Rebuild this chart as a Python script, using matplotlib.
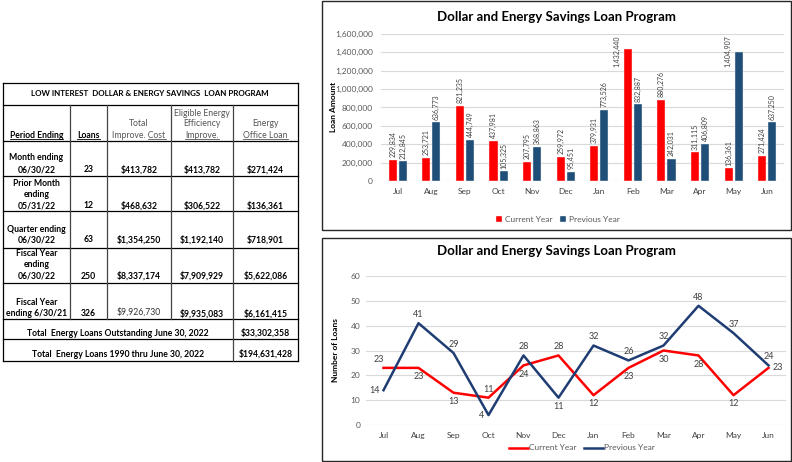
import numpy as np
import matplotlib
matplotlib.use('Agg')
import matplotlib.pyplot as plt
from matplotlib.patches import Rectangle
from matplotlib.ticker import FuncFormatter

plt.rcParams['font.family'] = ['Lato', 'DejaVu Sans']

# ---------------- data ----------------
months = ["Jul", "Aug", "Sep", "Oct", "Nov", "Dec", "Jan", "Feb", "Mar", "Apr", "May", "Jun"]
amount_current = [229834, 253721, 821235, 437981, 207795, 259972, 379931, 1432440, 880276, 311115, 136361, 271424]
amount_previous = [212845, 636773, 444749, 105325, 368863, 95451, 773526, 832887, 242031, 406809, 1404907, 637250]
loans_current = [23, 23, 13, 11, 24, 28, 12, 23, 30, 28, 12, 23]
loans_previous = [14, 41, 29, 4, 28, 11, 32, 26, 32, 48, 37, 24]
series_names = ["Current Year", "Previous Year"]
chart_title = "Dollar and Energy Savings Loan Program"

table_title = "LOW INTEREST  DOLLAR & ENERGY SAVINGS  LOAN PROGRAM"
period_labels = [["Month ending", "06/30/22"],
                 ["Prior Month", "ending", "05/31/22"],
                 ["Quarter ending", "06/30/22"],
                 ["Fiscal Year", "ending", "06/30/22"],
                 ["Fiscal Year", "ending 6/30/21"]]
loan_counts = [23, 12, 63, 250, 326]
total_improve_cost = [413782, 468632, 1354250, 8337174, 9926730]
eligible_improve = [413782, 306522, 1192140, 7909929, 9935083]
office_loan = [271424, 136361, 718901, 5622086, 6161415]
total_labels = ["Total  Energy Loans Outstanding June 30, 2022", "Total  Energy Loans 1990 thru June 30, 2022"]
total_values = [33302358, 194631428]

# ---------------- style / layout ----------------
W, H, DPI = 792, 462, 100
RED = '#FF0000'
BAR_BLUE = '#1F4E79'
LINE_BLUE = '#1F3D73'
TICK = '#595959'
GRID = '#D9D9D9'
# label placements for the line chart
cur_place = ['aboveleft', 'below', 'below', 'above', 'below', 'above', 'below', 'below', 'below', 'below', 'below', 'right']
prev_place = ['left', 'above', 'above', 'left', 'above', 'below', 'above', 'above', 'above', 'above', 'above', 'above']

fig = plt.figure(figsize=(W / DPI, H / DPI), dpi=DPI)
fig.patch.set_facecolor('white')


def rect(x0, y0, x1, y1):
    return [x0 / W, 1 - y1 / H, (x1 - x0) / W, (y1 - y0) / H]


ov = fig.add_axes([0, 0, 1, 1], zorder=10)
ov.set_xlim(0, W)
ov.set_ylim(H, 0)
ov.axis('off')
ov.patch.set_alpha(0)


def style_axis(ax):
    for s in ax.spines.values():
        s.set_visible(False)
    ax.tick_params(length=0, labelsize=6, colors=TICK)
    ax.grid(axis='y', color=GRID, lw=0.8)
    ax.set_axisbelow(True)


# ---------------- bar chart ----------------
ax1 = fig.add_axes(rect(381, 34, 784, 181))
x = np.arange(len(months))
b1 = ax1.bar(x - 0.15, amount_current, 0.24, color=RED, edgecolor='#F2F2F2', linewidth=0.3,
             label=series_names[0], zorder=3)
b2 = ax1.bar(x + 0.15, amount_previous, 0.24, color=BAR_BLUE, edgecolor='#F2F2F2', linewidth=0.3,
             label=series_names[1], zorder=3)
YMAX = 1600000
ax1.set_xlim(-0.5, 11.5)
ax1.set_ylim(0, YMAX)
ax1.set_yticks(np.arange(0, YMAX + 1, 200000))
ax1.yaxis.set_major_formatter(FuncFormatter(lambda v, p: f"{int(v):,}"))
ax1.set_xticks(x, months)
style_axis(ax1)
ax1.tick_params(axis='y', pad=6)
ax1.tick_params(axis='x', pad=5, labelcolor='#404040')
for bars, vals in ((b1, amount_current), (b2, amount_previous)):
    for r, v in zip(bars, vals):
        xc = r.get_x() + r.get_width() / 2
        if v > 0.8 * YMAX:
            # label does not fit above the bar: put it beside the bar, at the top
            ax1.annotate(f"{v:,}", (xc, YMAX), xytext=(-8, -1), textcoords='offset points',
                         rotation=90, ha='center', va='top', fontsize=5, color='#404040')
        else:
            ax1.annotate(f"{v:,}", (xc, v), xytext=(0, 2), textcoords='offset points',
                         rotation=90, ha='center', va='bottom', fontsize=5, color='#404040')
ov.text(556, 17, chart_title, ha='center', va='center', fontsize=9.5, fontweight='bold', color='black')
ov.text(334, 107, "Loan Amount", rotation=90, ha='center', va='center', fontsize=6, fontweight='bold')
fig.legend([b1, b2], series_names, loc='center', bbox_to_anchor=(558 / W, 1 - 219 / H), ncol=2,
           frameon=False, fontsize=6, handlelength=0.7, handleheight=0.7, handletextpad=0.3,
           columnspacing=1.0, labelcolor=TICK)

# ---------------- line chart ----------------
ax2 = fig.add_axes(rect(366, 276, 786, 425))
l1, = ax2.plot(x, loans_current, color=RED, lw=1.8, label=series_names[0], zorder=3)
l2, = ax2.plot(x, loans_previous, color=LINE_BLUE, lw=1.8, label=series_names[1], zorder=4)
ax2.set_xlim(-0.5, 11.5)
ax2.set_ylim(0, 60)
ax2.set_yticks(np.arange(0, 61, 10))
ax2.set_xticks(x, months)
style_axis(ax2)
ax2.tick_params(axis='y', pad=4)
ax2.tick_params(axis='x', pad=5, labelcolor='#404040')

offs = {'above': ((0, 3), 'center', 'bottom'), 'below': ((0, -3), 'center', 'top'),
        'left': ((-3, 0), 'right', 'center'), 'right': ((3, 0), 'left', 'center'),
        'aboveleft': ((-3, 3), 'center', 'bottom')}
for vals, places in ((loans_current, cur_place), (loans_previous, prev_place)):
    for i, (v, p) in enumerate(zip(vals, places)):
        o, ha, va = offs[p]
        ax2.annotate(f"{v}", (i, v), xytext=o, textcoords='offset points', ha=ha, va=va,
                     fontsize=6.5, color='#404040', zorder=5)
ov.text(556, 251, chart_title, ha='center', va='center', fontsize=9.5, fontweight='bold', color='black')
ov.text(335, 350, "Number of Loans", rotation=90, ha='center', va='center', fontsize=6, fontweight='bold')
fig.legend([l1, l2], series_names, loc='center', bbox_to_anchor=(582 / W, 1 - 448 / H), ncol=2,
           frameon=False, fontsize=6, handlelength=2.2, handletextpad=0.1,
           columnspacing=1.0, labelcolor=TICK)

# chart boxes
ov.add_patch(Rectangle((322, 1), 469, 229, fill=False, ec='#262626', lw=1.0))
ov.add_patch(Rectangle((322, 238), 469, 223, fill=False, ec='#262626', lw=1.0))

# ---------------- table ----------------
TL, TR = 3, 298
hlines = [83, 105, 141, 176, 211, 248, 283, 319, 339, 361]
for y in hlines:
    ov.plot([TL, TR], [y, y], color='black', lw=0.9)
ov.plot([TL, TL], [83, 361], color='black', lw=0.9)
ov.plot([TR, TR], [83, 361], color='black', lw=0.9)
col_x = [70, 107, 171, 233]
for cx in col_x:
    ov.plot([cx, cx], [105, 319], color='#444444', lw=0.9)
ov.plot([233, 233], [319, 361], color='#444444', lw=0.9)

FS = 6.2
col_c = [36.5, 88.5, 139, 202, 265.5]
ov.text(150, 96.5, table_title, ha='center', va='baseline', fontsize=5.8, fontweight='bold')

underlines = []


def tt(xc, yb, s, bold=True, color='black', ul=None):
    t = ov.text(xc, yb, s, ha='center', va='baseline', fontsize=FS,
                fontweight='bold' if bold else 'normal', color=color)
    if ul is not None:
        underlines.append((t, ul, yb))
    return t


GRAYTXT = '#555555'
tt(col_c[0], 137.5, "Period Ending", ul='all')
tt(col_c[1], 137.5, "Loans", ul='all')
tt(col_c[2], 126.5, "Total", bold=False, color=GRAYTXT)
tt(col_c[2], 137.5, "Improve. Cost", bold=False, color=GRAYTXT, ul='Cost')
tt(col_c[3], 115.5, "Eligible Energy", bold=False, color=GRAYTXT)
tt(col_c[3], 126.5, "Efficiency", bold=False, color=GRAYTXT)
tt(col_c[3], 137.5, "Improve.", bold=False, color=GRAYTXT, ul='all')
tt(col_c[4], 126.5, "Energy", bold=False, color=GRAYTXT)
tt(col_c[4], 137.5, "Office Loan", bold=False, color=GRAYTXT, ul='all')

row_label_base = [[160.5, 172.5], [186, 197, 208.5], [232.5, 242.5], [256, 267, 278.5], [305, 316.5]]
row_value_base = [172.5, 208.5, 242.5, 279, 316.5]
for i in range(len(period_labels)):
    for s, yb in zip(period_labels[i], row_label_base[i]):
        tt(col_c[0], yb, s)
    yb = row_value_base[i]
    tt(col_c[1], yb, f"{loan_counts[i]}")
    last = (i == len(period_labels) - 1)
    tt(col_c[2], yb - (1.5 if last else 0), f"${total_improve_cost[i]:,}", bold=not last,
       color='#333333' if last else 'black')
    tt(col_c[3], yb, f"${eligible_improve[i]:,}")
    tt(col_c[4], yb, f"${office_loan[i]:,}")

for s, v, yb in zip(total_labels, total_values, [336, 357]):
    tt(118, yb, s)
    tt(265.5, yb, f"${v:,}")

fig.canvas.draw()
r = fig.canvas.get_renderer()
for t, ul, yb in underlines:
    bb = t.get_window_extent(r)
    x0, x1 = bb.x0, bb.x1
    if ul != 'all':
        tmp = ov.text(0, 0, ul, fontsize=FS, fontweight=t.get_fontweight())
        w = tmp.get_window_extent(r).width
        tmp.remove()
        x0 = x1 - w
    ov.plot([x0, x1], [yb + 1.6, yb + 1.6], color=t.get_color(), lw=0.6)

fig.savefig('out.png', dpi=DPI)
